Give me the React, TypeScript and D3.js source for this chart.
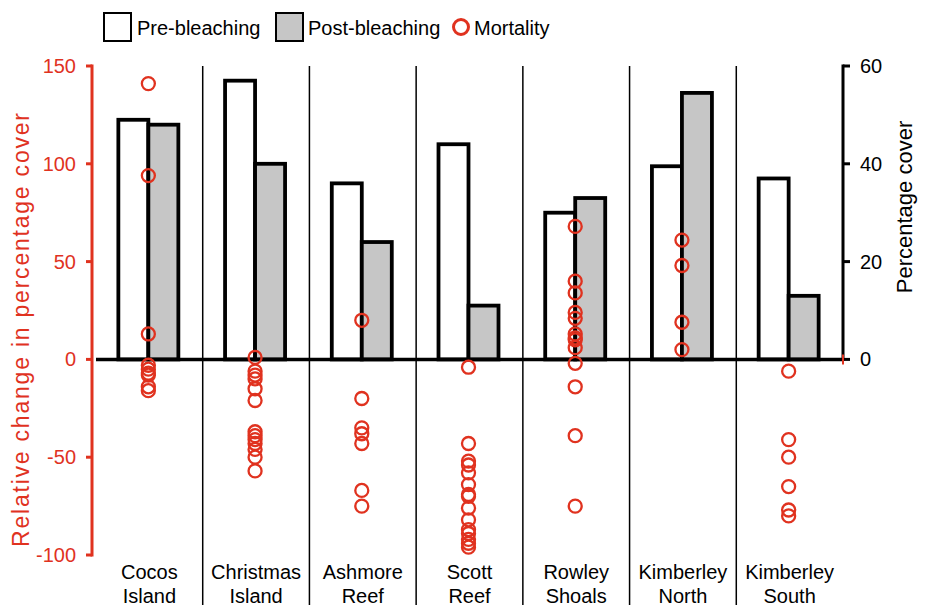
import React from 'react'
import * as d3 from 'd3'

// sites along the x axis
const sites = ['Cocos Island', 'Christmas Island', 'Ashmore Reef', 'Scott Reef', 'Rowley Shoals', 'Kimberley North', 'Kimberley South']

// percentage cover (right axis)
const preBleaching = [49, 57, 36, 44, 30, 39.5, 37]
const postBleaching = [48, 40, 24, 11, 33, 54.5, 13]

// relative change in percentage cover, one list per site (left axis)
const mortalityCocos = [141, 94, 13, -3, -5, -7, -8, -14, -16]
const mortalityChristmas = [1, -6, -8, -10, -15, -21, -37, -39, -41, -43, -46, -50, -57]
const mortalityAshmore = [20, -20, -35, -38, -43, -67, -75]
const mortalityScott = [-4, -43, -52, -54, -58, -64, -69, -70, -76, -82, -87, -89, -92, -94, -96]
const mortalityRowley = [68, 40, 34, 24, 21, 13, 11, 10, 6, -2, -14, -39, -75]
const mortalityKimberleyN = [61, 48, 19, 5]
const mortalityKimberleyS = [-6, -41, -50, -65, -77, -80]
const mortality = [mortalityCocos, mortalityChristmas, mortalityAshmore, mortalityScott, mortalityRowley, mortalityKimberleyN, mortalityKimberleyS]

const relTicks = [-100, -50, 0, 50, 100, 150]
const pctTicks = [0, 20, 40, 60]

const RED = '#e0321f'
const GREY = '#c6c6c6'
const FONT = '"Liberation Sans", Arial, Helvetica, sans-serif'

export default function App() {
  const width = 928
  const height = 606
  const left = 96
  const right = 843

  const x = d3.scaleBand<string>().domain(sites).range([left, right]).paddingInner(0)
  const yRel = d3.scaleLinear().domain([-100, 150]).range([555, 66])
  const yPct = d3.scaleLinear().domain([0, 60]).range([yRel(0), 66])

  const barW = 30
  const center = (s: string) => (x(s) as number) + x.bandwidth() / 2 - 1
  const axisX = 92

  return (
    <div style={{ position: 'absolute', left: 0, top: 0 }}>
      <svg width={width} height={height} style={{ display: 'block', fontFamily: FONT }}>
        <rect width={width} height={height} fill="#fff" />

        {/* separators between sites */}
        {sites.slice(1).map(s => (
          <line key={s} x1={x(s)} x2={x(s)} y1={66} y2={605} stroke="#000" strokeWidth={1.5} />
        ))}

        {/* bars */}
        {sites.map((s, i) => (
          <g key={s}>
            <rect x={center(s) - barW} y={yPct(preBleaching[i])} width={barW}
              height={yPct(0) - yPct(preBleaching[i])} fill="#fff" stroke="#000" strokeWidth={3.8} />
            <rect x={center(s)} y={yPct(postBleaching[i])} width={barW}
              height={yPct(0) - yPct(postBleaching[i])} fill={GREY} stroke="#000" strokeWidth={3.8} />
          </g>
        ))}

        {/* zero line */}
        <line x1={left} x2={right} y1={yRel(0)} y2={yRel(0)} stroke="#000" strokeWidth={3.5} />

        {/* mortality points */}
        {sites.map((s, i) => mortality[i].map((v, j) => (
          <circle key={s + j} cx={center(s)} cy={yRel(v)} r={6.5} fill="none" stroke={RED} strokeWidth={2.3} />
        )))}

        {/* left axis */}
        <line x1={axisX} x2={axisX} y1={yRel(150) - 1.5} y2={yRel(-100) + 1.5} stroke={RED} strokeWidth={3} />
        {relTicks.map(t => (
          <g key={t}>
            <line x1={axisX - 6} x2={axisX} y1={yRel(t)} y2={yRel(t)} stroke={RED} strokeWidth={3} />
            <text x={76} y={yRel(t)} dy="0.35em" textAnchor="end" fontSize={20} fill={RED}>{t}</text>
          </g>
        ))}
        <text transform={`translate(29,330) rotate(-90)`} textAnchor="middle" fontSize={23} fill={RED}
          textLength={434} lengthAdjust="spacing">Relative change in percentage cover</text>

        {/* right axis */}
        <line x1={right} x2={right} y1={yPct(60) - 1.5} y2={yPct(0) + 1.5} stroke="#000" strokeWidth={3} />
        {pctTicks.map(t => (
          <g key={t}>
            <line x1={right} x2={right + 7} y1={yPct(t)} y2={yPct(t)} stroke="#000" strokeWidth={3} />
            <text x={860} y={yPct(t)} dy="0.35em" fontSize={20} fill="#000">{t}</text>
          </g>
        ))}
        <line x1={right} x2={right} y1={yPct(0) - 5} y2={yPct(0) + 5} stroke={RED} strokeWidth={2} />
        <text transform={`translate(912,207) rotate(-90)`} textAnchor="middle" fontSize={22} fill="#000">Percentage cover</text>

        {/* site labels */}
        {sites.map(s => {
          const parts = s.split(' ')
          return (
            <text key={s} textAnchor="middle" fontSize={20} fill="#000">
              <tspan x={center(s) + 1} y={579}>{parts[0]}</tspan>
              <tspan x={center(s) + 1} y={603}>{parts[1]}</tspan>
            </text>
          )
        })}

        {/* legend */}
        <rect x={104} y={13} width={27} height={28} fill="#fff" stroke="#000" strokeWidth={2} />
        <text x={137} y={35} fontSize={20}>Pre-bleaching</text>
        <rect x={276} y={13} width={27} height={28} fill={GREY} stroke="#000" strokeWidth={2} />
        <text x={308} y={35} fontSize={20}>Post-bleaching</text>
        <circle cx={461} cy={27} r={7.5} fill="none" stroke={RED} strokeWidth={3} />
        <text x={474} y={35} fontSize={20}>Mortality</text>
      </svg>
    </div>
  )
}
